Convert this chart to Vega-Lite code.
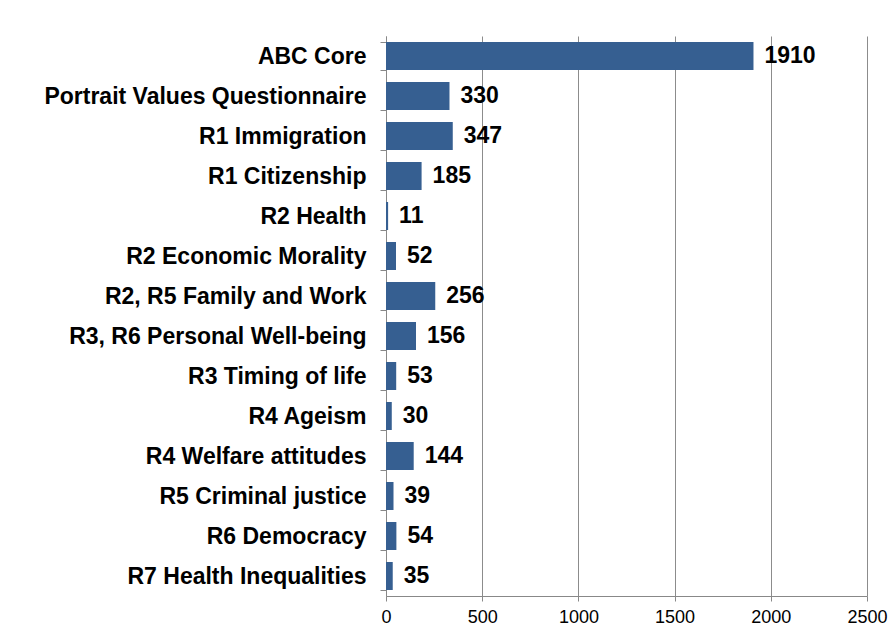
{
  "$schema": "https://vega.github.io/schema/vega-lite/v6.json",
  "autosize": {"type": "none"},
  "width": 481,
  "height": 560,
  "padding": {"left": 386, "top": 36, "right": 25, "bottom": 34},
  "background": "white",
  "config": {
    "view": {"stroke": null},
    "font": "Liberation Sans"
  },
  "data": {
    "values": [
      {"module": "ABC Core", "n": 1910},
      {"module": "Portrait Values Questionnaire", "n": 330},
      {"module": "R1 Immigration", "n": 347},
      {"module": "R1 Citizenship", "n": 185},
      {"module": "R2 Health", "n": 11},
      {"module": "R2 Economic Morality", "n": 52},
      {"module": "R2, R5 Family and Work", "n": 256},
      {"module": "R3, R6 Personal Well-being", "n": 156},
      {"module": "R3 Timing of life", "n": 53},
      {"module": "R4 Ageism", "n": 30},
      {"module": "R4 Welfare attitudes", "n": 144},
      {"module": "R5 Criminal justice", "n": 39},
      {"module": "R6 Democracy", "n": 54},
      {"module": "R7 Health Inequalities", "n": 35}
    ]
  },
  "encoding": {
    "y": {
      "field": "module",
      "type": "nominal",
      "sort": null,
      "scale": {"paddingInner": 0.3, "paddingOuter": 0.15},
      "axis": {
        "title": null,
        "domainColor": "#888888",
        "tickColor": "#888888",
        "tickSize": 6,
        "tickBand": "extent",
        "labelPadding": 14,
        "labelFont": "Liberation Sans",
        "labelFontSize": 23,
        "labelFontWeight": "bold",
        "labelColor": "#000000",
        "labelLimit": 400
      }
    },
    "x": {
      "field": "n",
      "type": "quantitative",
      "scale": {"domain": [0, 2500], "nice": false},
      "axis": {
        "title": null,
        "values": [0, 500, 1000, 1500, 2000, 2500],
        "format": "d",
        "grid": true,
        "gridColor": "#8c8c8c",
        "gridWidth": 1,
        "domainColor": "#888888",
        "tickColor": "#888888",
        "tickSize": 5,
        "labelPadding": 7,
        "labelFont": "Liberation Sans",
        "labelFontSize": 18,
        "labelColor": "#000000",
        "labelFlush": false
      }
    }
  },
  "layer": [
    {
      "mark": {"type": "bar", "color": "#365F91"}
    },
    {
      "mark": {
        "type": "text",
        "align": "left",
        "baseline": "middle",
        "dx": 11,
        "font": "Liberation Sans",
        "fontSize": 23,
        "fontWeight": "bold",
        "color": "#000000"
      },
      "encoding": {"text": {"field": "n", "type": "quantitative"}}
    }
  ]
}
